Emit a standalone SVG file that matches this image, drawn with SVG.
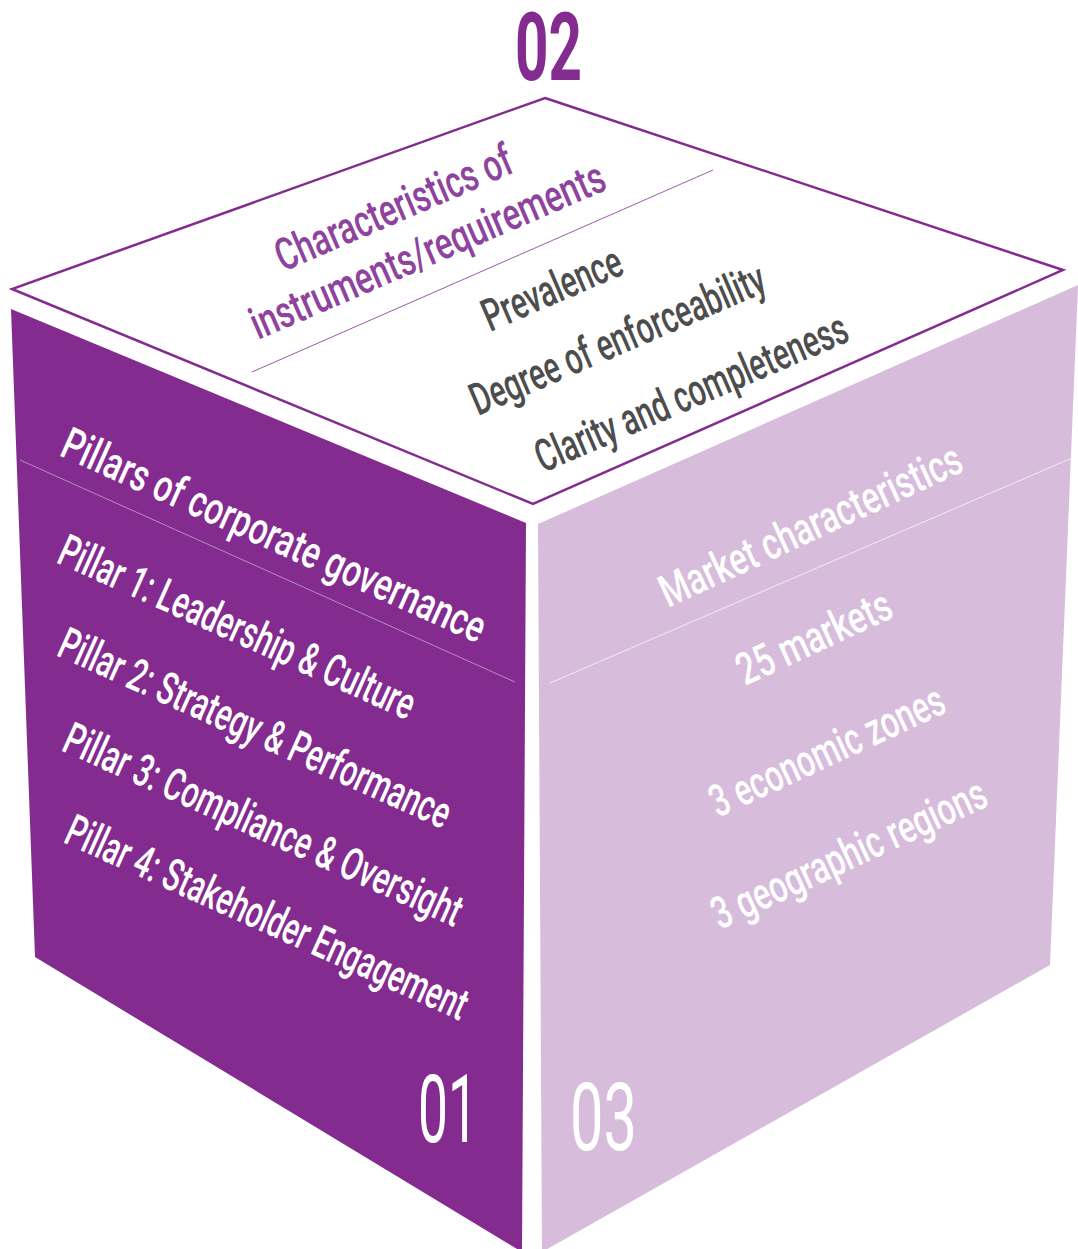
<svg xmlns="http://www.w3.org/2000/svg" width="1078" height="1249" viewBox="0 0 1078 1249">
<style>
  .t { font-family: Roboto, "Liberation Sans", sans-serif; font-size: 45px; font-weight: 500; }
  .w { fill: #ffffff; }
  .g { fill: #4d4d4d; }
  .p { fill: #8e449e; }
  .num { font-family: Roboto, "Liberation Sans", sans-serif; font-size: 94px; }
</style>
<rect width="1078" height="1249" fill="#ffffff"/>
<g id="face-left">
  <polygon points="11,309 526,523 522,1252 35,957" fill="#832b8f"/>
  <line x1="20" y1="460" x2="515" y2="682" stroke="#b88cc0" stroke-width="1"/>
  <text class="t w" transform="translate(58 455) rotate(24.2) scale(0.65 1)" textLength="707.7" lengthAdjust="spacingAndGlyphs">Pillars of corporate governance</text>
  <text class="t w" transform="translate(55 562) rotate(24.2) scale(0.65 1)" textLength="593.8" lengthAdjust="spacingAndGlyphs">Pillar 1: Leadership &amp; Culture</text>
  <text class="t w" transform="translate(55 655) rotate(24.2) scale(0.65 1)" textLength="653.8" lengthAdjust="spacingAndGlyphs">Pillar 2: Strategy &amp; Performance</text>
  <text class="t w" transform="translate(60 750) rotate(24.2) scale(0.65 1)" textLength="664.6" lengthAdjust="spacingAndGlyphs">Pillar 3: Compliance &amp; Oversight</text>
  <text class="t w" transform="translate(62 842) rotate(24.2) scale(0.65 1)" textLength="670.8" lengthAdjust="spacingAndGlyphs">Pillar 4: Stakeholder Engagement</text>
  <text class="num w" transform="translate(418 1142) scale(0.65 1)" textLength="92.3" lengthAdjust="spacingAndGlyphs">01</text>
</g>
<g id="face-right">
  <polygon points="538,524 1078,285 1050,965 542,1252" fill="#d7bcdc"/>
  <line x1="550" y1="683" x2="1072" y2="458" stroke="#f3eaf4" stroke-width="1"/>
  <text class="t w" transform="translate(668 608) rotate(-24.8) scale(0.65 1)" textLength="504.6" lengthAdjust="spacingAndGlyphs">Market characteristics</text>
  <text class="t w" transform="translate(745 686) rotate(-24.8) scale(0.65 1)" textLength="255.4" lengthAdjust="spacingAndGlyphs">25 markets</text>
  <text class="t w" transform="translate(718 818) rotate(-24.8) scale(0.65 1)" textLength="390.8" lengthAdjust="spacingAndGlyphs">3 economic zones</text>
  <text class="t w" transform="translate(720 930) rotate(-24.8) scale(0.65 1)" textLength="458.5" lengthAdjust="spacingAndGlyphs">3 geographic regions</text>
  <text class="num w" transform="translate(570 1150) scale(0.65 1)" textLength="103" lengthAdjust="spacingAndGlyphs">03</text>
</g>
<g id="face-top">
  <polygon points="545,98 1063,270 533,504 12,289" fill="#ffffff" stroke="#832b8f" stroke-width="2.5" stroke-linejoin="miter"/>
  <line x1="252" y1="372" x2="713" y2="170" stroke="#9b59a8" stroke-width="1"/>
  <text class="t p" transform="translate(283 272) rotate(-23.3) scale(0.65 1)" textLength="390.8" lengthAdjust="spacingAndGlyphs">Characteristics of</text>
  <text class="t p" transform="translate(258 340) rotate(-23.3) scale(0.65 1)" textLength="587.7" lengthAdjust="spacingAndGlyphs">instruments/requirements</text>
  <text class="t g" transform="translate(490 332) rotate(-23.3) scale(0.65 1)" textLength="227.7" lengthAdjust="spacingAndGlyphs">Prevalence</text>
  <text class="t g" transform="translate(478 416) rotate(-23.3) scale(0.65 1)" textLength="487.7" lengthAdjust="spacingAndGlyphs">Degree of enforceability</text>
  <text class="t g" transform="translate(543 473) rotate(-23.3) scale(0.65 1)" textLength="516.9" lengthAdjust="spacingAndGlyphs">Clarity and completeness</text>
</g>
<g id="label-02">
  <text class="num" transform="translate(515 80) scale(0.65 1)" fill="#832b8f" font-weight="700" textLength="103" lengthAdjust="spacingAndGlyphs">02</text>
</g>
<g id="connectors"/>
</svg>
